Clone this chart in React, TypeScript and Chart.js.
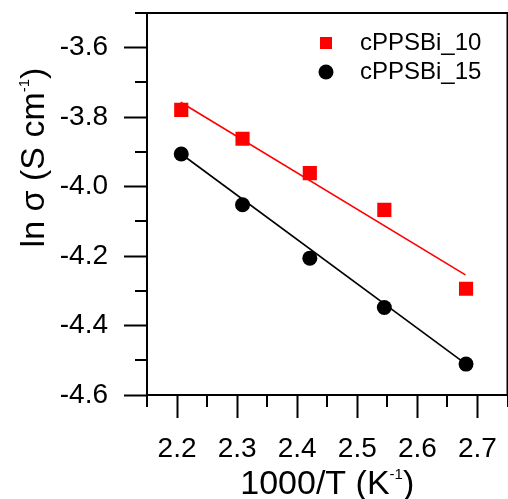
import React, { useEffect, useRef } from 'react';
import { Chart, registerables } from 'chart.js';

Chart.register(...registerables);

// ---- data ----
const invT = [2.207, 2.309, 2.421, 2.545, 2.681];
const lnSigma10 = [-3.779, -3.862, -3.961, -4.067, -4.294];
const lnSigma15 = [-3.906, -4.052, -4.206, -4.348, -4.511];
const fit10X = [2.206, 2.68];
const fit10Y = [-3.757, -4.254];
const fit15X = [2.207, 2.681];
const fit15Y = [-3.906, -4.511];
const seriesLabels = ['cPPSBi_10', 'cPPSBi_15'];
const seriesColors = ['#ff0000', '#000000'];

const xTicks = [2.2, 2.3, 2.4, 2.5, 2.6, 2.7];
const xMinorTicks = [2.15, 2.25, 2.35, 2.45, 2.55, 2.65, 2.75];
const yTicks = [-4.6, -4.4, -4.2, -4.0, -3.8, -3.6];
const yMinorTicks = [-4.5, -4.3, -4.1, -3.9, -3.7, -3.5];
const xRange = [2.15, 2.75];
const yRange = [-4.6, -3.5];

const xTitleParts = [
  { text: '1000/T (K', sup: false },
  { text: '-1', sup: true },
  { text: ')', sup: false },
];
const yTitleParts = [
  { text: 'ln σ (S cm', sup: false },
  { text: '-1', sup: true },
  { text: ')', sup: false },
];

const FONT = "'Liberation Sans', Arial, Helvetica, sans-serif";

function toPoints(xs: number[], ys: number[]) {
  return xs.map((x, i) => ({ x, y: ys[i] }));
}

function drawRich(ctx: CanvasRenderingContext2D, parts: { text: string; sup: boolean }[], cx: number, baseY: number) {
  const mainFont = `34px ${FONT}`;
  const supFont = `15px ${FONT}`;
  let total = 0;
  const widths = parts.map((p) => {
    ctx.font = p.sup ? supFont : mainFont;
    const w = ctx.measureText(p.text).width;
    total += w;
    return w;
  });
  let x = cx - total / 2;
  ctx.textAlign = 'left';
  ctx.textBaseline = 'alphabetic';
  ctx.fillStyle = '#000';
  parts.forEach((p, i) => {
    ctx.font = p.sup ? supFont : mainFont;
    ctx.fillText(p.text, x, p.sup ? baseY - 15 : baseY);
    x += widths[i];
  });
}

const decorPlugin = {
  id: 'decor',
  afterDraw(chart: any) {
    const { ctx, chartArea } = chart;
    const xs = chart.scales.x;
    const ys = chart.scales.y;
    ctx.save();
    // frame
    ctx.strokeStyle = '#000';
    ctx.lineWidth = 2;
    ctx.strokeRect(chartArea.left, chartArea.top, chartArea.right - chartArea.left, chartArea.bottom - chartArea.top);
    // minor ticks
    ctx.beginPath();
    xMinorTicks.forEach((v) => {
      const px = Math.round(xs.getPixelForValue(v));
      ctx.moveTo(px, chartArea.bottom);
      ctx.lineTo(px, chartArea.bottom + 12);
    });
    yMinorTicks.forEach((v) => {
      const py = Math.round(ys.getPixelForValue(v));
      ctx.moveTo(chartArea.left, py);
      ctx.lineTo(chartArea.left - 12, py);
    });
    ctx.stroke();

    // axis titles
    drawRich(ctx, xTitleParts, (chartArea.left + chartArea.right) / 2, 493.5);
    ctx.save();
    ctx.translate(43.5, 157.5);
    ctx.rotate(-Math.PI / 2);
    drawRich(ctx, yTitleParts, 0, 0);
    ctx.restore();

    // legend
    const mx = chartArea.left + 179;
    const my = chartArea.top + 30;
    [0, 1].forEach((i) => {
      const ds = chart.data.datasets[i];
      const y = my + i * 29;
      ctx.fillStyle = ds.backgroundColor;
      if (ds.pointStyle === 'rect') {
        ctx.fillRect(mx - 6, y - 6, 12, 12);
      } else {
        ctx.beginPath();
        ctx.arc(mx, y, 7.5, 0, Math.PI * 2);
        ctx.fill();
      }
      ctx.fillStyle = '#000';
      ctx.font = `24px ${FONT}`;
      ctx.textAlign = 'left';
      ctx.textBaseline = 'middle';
      ctx.fillText(ds.label, mx + 34, y);
    });
    ctx.restore();
  },
};

export default function App() {
  const canvasRef = useRef<HTMLCanvasElement | null>(null);

  useEffect(() => {
    if (!canvasRef.current) return;
    const chart = new Chart(canvasRef.current, {
      type: 'scatter',
      data: {
        datasets: [
          {
            label: seriesLabels[0],
            data: toPoints(invT, lnSigma10),
            pointStyle: 'rect',
            pointRadius: 10,
            pointBorderWidth: 0,
            backgroundColor: seriesColors[0],
            borderColor: seriesColors[0],
          },
          {
            label: seriesLabels[1],
            data: toPoints(invT, lnSigma15),
            pointStyle: 'circle',
            pointRadius: 7.5,
            pointBorderWidth: 0,
            backgroundColor: seriesColors[1],
            borderColor: seriesColors[1],
          },
          {
            label: 'fit10',
            data: toPoints(fit10X, fit10Y),
            showLine: true,
            pointRadius: 0,
            borderColor: seriesColors[0],
            borderWidth: 1.6,
          },
          {
            label: 'fit15',
            data: toPoints(fit15X, fit15Y),
            showLine: true,
            pointRadius: 0,
            borderColor: seriesColors[1],
            borderWidth: 1.6,
          },
        ],
      },
      options: {
        responsive: false,
        animation: false,
        layout: { autoPadding: false, padding: { top: 13, right: 0.5, bottom: 0, left: 0 } },
        plugins: {
          legend: { display: false },
          tooltip: { enabled: false },
        },
        scales: {
          x: {
            type: 'linear',
            min: xRange[0],
            max: xRange[1],
            afterBuildTicks: (scale: any) => {
              scale.ticks = xTicks.map((value) => ({ value }));
            },
            afterFit: (scale: any) => {
              scale.height = 104;
              scale.paddingLeft = 0;
              scale.paddingRight = 0;
            },
            ticks: {
              autoSkip: false,
              maxRotation: 0,
              minRotation: 0,
              padding: 14,
              color: '#000',
              font: { family: FONT, size: 28 },
              callback: (v: any) => Number(v).toFixed(1),
            },
            grid: {
              drawOnChartArea: false,
              drawTicks: true,
              tickLength: 23,
              tickWidth: 2,
              tickColor: '#000',
            },
            border: { display: true, color: '#000', width: 2 },
          },
          y: {
            type: 'linear',
            min: yRange[0],
            max: yRange[1],
            afterBuildTicks: (scale: any) => {
              scale.ticks = yTicks.map((value) => ({ value }));
            },
            afterFit: (scale: any) => {
              scale.width = 147;
              scale.paddingTop = 0;
              scale.paddingBottom = 0;
            },
            ticks: {
              autoSkip: false,
              padding: 16,
              color: '#000',
              font: { family: FONT, size: 28 },
              callback: (v: any) => Number(v).toFixed(1),
            },
            grid: {
              drawOnChartArea: false,
              drawTicks: true,
              tickLength: 23,
              tickWidth: 2,
              tickColor: '#000',
            },
            border: { display: true, color: '#000', width: 2 },
          },
        },
      },
      plugins: [decorPlugin],
    } as any);
    return () => chart.destroy();
  }, []);

  return (
    <div style={{ position: 'absolute', left: 0, top: 0, width: 508, height: 499, background: '#fff' }}>
      <canvas ref={canvasRef} width={508} height={499} style={{ display: 'block' }} />
    </div>
  );
}
